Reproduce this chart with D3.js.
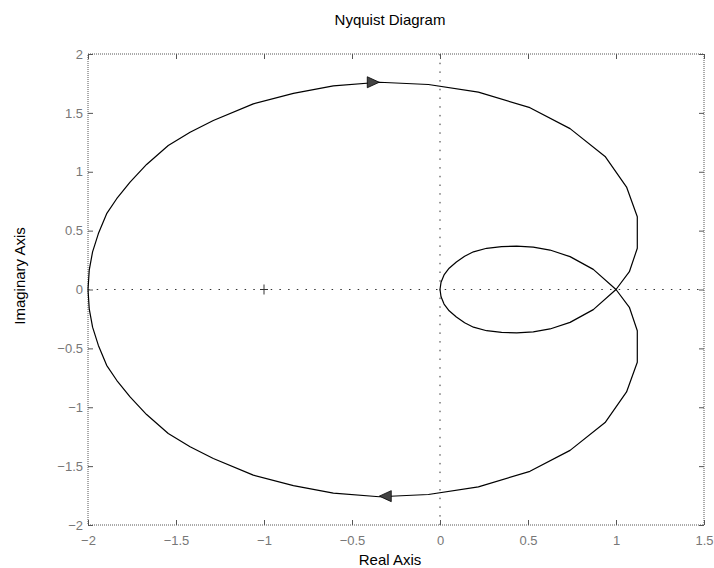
<!DOCTYPE html>
<head>
    <meta charset="utf-8">
    <script src="https://cdn.jsdelivr.net/npm/d3@7"></script>
    <style>
        body { margin:0; background:#fff; }
        text { font-family: "Liberation Sans", Arial, sans-serif; }
        .frame { fill:none; stroke:#555; stroke-width:1; stroke-dasharray:1,1; }
        .zero { stroke:#333; stroke-width:1; stroke-dasharray:1.5,7.2; }
        .curve { fill:none; stroke:#000; stroke-width:1.2; stroke-linejoin:round; }
        .arrow { fill:#444; stroke:#000; stroke-width:0.8; }
        .cross { stroke:#333; stroke-width:1; }
        .label { font-size:15px; fill:#000; text-anchor:middle; }
    </style>
</head>

<body>
<script>
    // tick values
    var xTicks = [-2, -1.5, -1, -0.5, 0, 0.5, 1, 1.5];
    var yTicks = [-2, -1.5, -1, -0.5, 0, 0.5, 1, 1.5, 2];

    // positive frequency branch (real / imaginary parts)
    var re = [-2, -1.993, -1.974, -1.941, -1.894, -1.837, -1.761, -1.667, -1.544, -1.42,
              -1.288, -1.061, -0.833, -0.606, -0.345, -0.066, 0.218, 0.511, 0.739, 0.938,
              1.06, 1.121, 1.121, 1.076, 1.0,
              0.871, 0.739, 0.625, 0.53, 0.436, 0.35, 0.265, 0.19, 0.14, 0.093, 0.052, 0.023, 0.006, 0];
    var im = [0, 0.164, 0.32, 0.475, 0.644, 0.771, 0.912, 1.062, 1.223, 1.336,
              1.435, 1.576, 1.666, 1.729, 1.76, 1.741, 1.676, 1.544, 1.366, 1.13,
              0.87, 0.618, 0.35, 0.151, 0,
              -0.171, -0.279, -0.335, -0.36, -0.369, -0.364, -0.35, -0.32, -0.283, -0.233, -0.181, -0.124, -0.062, 0];

    // direction arrows (tip position, +1 = pointing right, -1 = left)
    var arrowRe = [-0.345, -0.345];
    var arrowIm = [1.76, -1.755];
    var arrowDir = [1, -1];

    // critical point
    var critRe = -1, critIm = 0;

    var width = 714, height = 568;
    var plotL = 88, plotR = 704, plotT = 54, plotB = 525;

    var svg = d3.select("body").append("svg")
        .attr("width", width)
        .attr("height", height);

    var x = d3.scaleLinear().domain([-2, 1.5]).range([plotL, plotR]);
    var y = d3.scaleLinear().domain([-2, 2]).range([plotB, plotT]);

    // dotted lines through the origin
    svg.append("line").attr("class", "zero")
        .attr("x1", plotL).attr("x2", plotR).attr("y1", y(0)).attr("y2", y(0));
    svg.append("line").attr("class", "zero")
        .attr("x1", x(0)).attr("x2", x(0)).attr("y1", plotT).attr("y2", plotB);

    // tick labels
    function styleLabels(g) {
        g.select(".domain").remove();
        g.attr("font-family", '"Liberation Sans", Arial, sans-serif')
         .attr("font-size", 13)
         .attr("color", "#777");
    }
    svg.append("g")
        .attr("transform", "translate(0," + plotB + ")")
        .call(d3.axisBottom(x).tickValues(xTicks).tickSize(0).tickPadding(11).tickFormat(d3.format("~g")))
        .call(styleLabels);
    svg.append("g")
        .attr("transform", "translate(" + plotL + ",0)")
        .call(d3.axisLeft(y).tickValues(yTicks).tickSize(0).tickPadding(5).tickFormat(d3.format("~g")))
        .call(styleLabels);

    // inward ticks on all four sides
    function styleTicks(g) {
        g.select(".domain").remove();
        g.attr("color", "#555");
    }
    svg.append("g").attr("transform", "translate(0," + plotB + ")")
        .call(d3.axisBottom(x).tickValues(xTicks).tickSize(-5).tickFormat("")).call(styleTicks);
    svg.append("g").attr("transform", "translate(0," + plotT + ")")
        .call(d3.axisTop(x).tickValues(xTicks).tickSize(-5).tickFormat("")).call(styleTicks);
    svg.append("g").attr("transform", "translate(" + plotL + ",0)")
        .call(d3.axisLeft(y).tickValues(yTicks).tickSize(-5).tickFormat("")).call(styleTicks);
    svg.append("g").attr("transform", "translate(" + plotR + ",0)")
        .call(d3.axisRight(y).tickValues(yTicks).tickSize(-5).tickFormat("")).call(styleTicks);

    svg.append("rect").attr("class", "frame")
        .attr("x", plotL).attr("y", plotT)
        .attr("width", plotR - plotL).attr("height", plotB - plotT);

    // curve: positive branch, then its mirror (negative frequencies)
    var pos = re.map((d, i) => [d, im[i]]);
    var neg = pos.map(d => [d[0], -d[1]]).reverse();
    var line = d3.line().x(d => x(d[0])).y(d => y(d[1]));

    svg.append("path").attr("class", "curve").attr("d", line(pos));
    svg.append("path").attr("class", "curve").attr("d", line(neg));

    // arrows
    arrowRe.forEach((r, i) => {
        svg.append("path")
            .attr("class", "arrow")
            .attr("d", "M0,0L-12,-5.5L-12,5.5Z")
            .attr("transform", "translate(" + x(r) + "," + y(arrowIm[i]) + ") rotate(" + (arrowDir[i] > 0 ? 0 : 180) + ")");
    });

    // critical point marker
    svg.append("line").attr("class", "cross")
        .attr("x1", x(critRe) - 4).attr("x2", x(critRe) + 4)
        .attr("y1", y(critIm)).attr("y2", y(critIm));
    svg.append("line").attr("class", "cross")
        .attr("x1", x(critRe)).attr("x2", x(critRe))
        .attr("y1", y(critIm) - 5).attr("y2", y(critIm) + 5);

    // titles
    svg.append("text").attr("class", "label")
        .attr("x", 390).attr("y", 25)
        .text("Nyquist Diagram");
    svg.append("text").attr("class", "label")
        .attr("x", 390).attr("y", 565)
        .text("Real Axis");
    svg.append("text").attr("class", "label")
        .attr("transform", "translate(25,276) rotate(-90)")
        .text("Imaginary Axis");
</script>
</body>
